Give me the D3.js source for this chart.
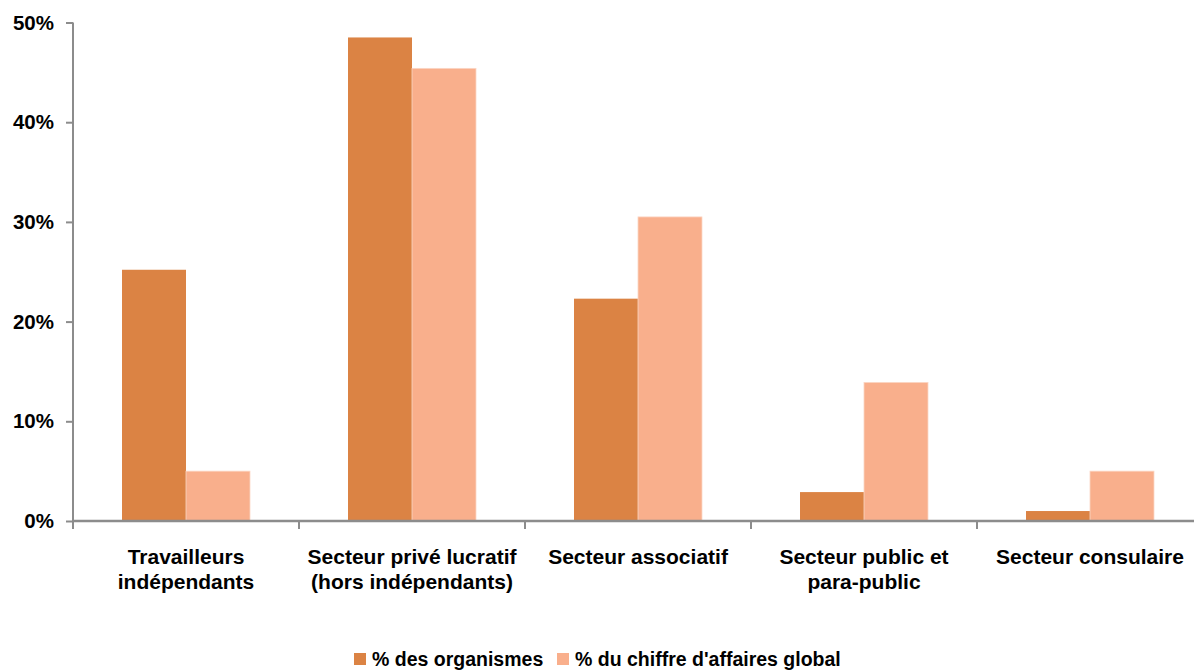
<!DOCTYPE html>
<html>
<head>
<meta charset="utf-8">
<script src="https://cdn.jsdelivr.net/npm/d3@7"></script>
<style>
  body { margin: 0; background: #fff; }
  text { font-family: "Liberation Sans", Arial, sans-serif; font-weight: bold; fill: #000; }
</style>
</head>
<body>
<div id="chart"></div>
<script>
var categories = [
  "Travailleurs|indépendants",
  "Secteur privé lucratif|(hors indépendants)",
  "Secteur associatif",
  "Secteur public et|para-public",
  "Secteur consulaire"
];
var seriesNames = ["% des organismes", "% du chiffre d'affaires global"];
var organismes = [25.2, 48.5, 22.3, 2.9, 1.0];
var chiffreAffaires = [5.0, 45.4, 30.5, 13.9, 5.0];
var yTicks = [0, 10, 20, 30, 40, 50];
var colors = ["#DB8344", "#F9AF8C"];

var width = 1194, height = 670;

var svg = d3.select("#chart").append("svg")
    .attr("width", width)
    .attr("height", height);

var x = d3.scaleBand()
    .domain(categories)
    .range([73, 73 + 5 * 226])
    .paddingInner(0)
    .paddingOuter(0);

var xSeries = d3.scaleBand()
    .domain([0, 1])
    .range([0, x.bandwidth()])
    .paddingOuter(0.766)
    .paddingInner(0);

var y = d3.scaleLinear()
    .domain([0, 50])
    .range([521, 22.5]);

// bars
var series = [organismes, chiffreAffaires];
series.forEach(function (vals, s) {
  svg.append("g")
    .selectAll("rect")
    .data(vals)
    .join("rect")
    .attr("x", (d, i) => x(categories[i]) + xSeries(s))
    .attr("y", d => y(d))
    .attr("width", xSeries.bandwidth())
    .attr("height", d => y(0) - y(d))
    .attr("fill", colors[s])
    .attr("stroke", s === 1 ? "#fbd6c4" : "none")
    .attr("stroke-width", s === 1 ? 0.8 : 0);
});

// y axis
var yAxis = svg.append("g")
    .attr("transform", "translate(73,0)")
    .call(d3.axisLeft(y).tickValues(yTicks).tickFormat(d => d + "%").tickSize(7).tickPadding(12));
yAxis.selectAll("path, line").attr("stroke", "#8c8c8c").attr("stroke-width", 2);
yAxis.select(".domain").attr("d", "M0," + y(50) + "V" + y(0));
yAxis.selectAll("text")
    .attr("font-size", 20.5)
    .attr("font-family", "Liberation Sans, Arial, sans-serif")
    .attr("font-weight", "bold")
    .attr("fill", "#000");

// x axis
var xAxisG = svg.append("g");
xAxisG.append("line")
    .attr("x1", 73).attr("x2", width)
    .attr("y1", y(0)).attr("y2", y(0))
    .attr("stroke", "#8c8c8c").attr("stroke-width", 2.5);
xAxisG.selectAll("line.tick")
    .data(categories.concat(["end"]))
    .join("line")
    .attr("class", "tick")
    .attr("x1", (d, i) => i < categories.length ? x(d) : x.range()[1])
    .attr("x2", (d, i) => i < categories.length ? x(d) : x.range()[1])
    .attr("y1", y(0)).attr("y2", y(0) + 8)
    .attr("stroke", "#8c8c8c").attr("stroke-width", 2);

var labels = xAxisG.selectAll("text.cat")
    .data(categories)
    .join("text")
    .attr("class", "cat")
    .attr("text-anchor", "middle")
    .attr("font-size", 21)
    .attr("transform", d => "translate(" + (x(d) + x.bandwidth() / 2) + ",564)");
labels.selectAll("tspan")
    .data(d => d.split("|"))
    .join("tspan")
    .attr("x", 0)
    .attr("dy", (d, i) => i === 0 ? 0 : 25)
    .text(d => d);

// legend
var legendItems = [
  { name: seriesNames[0], color: colors[0], x: 354 },
  { name: seriesNames[1], color: colors[1], x: 557 }
];
var legend = svg.append("g");
legendItems.forEach(function (it) {
  legend.append("rect")
    .attr("x", it.x).attr("y", 653)
    .attr("width", 12).attr("height", 12)
    .attr("fill", it.color);
  legend.append("text")
    .attr("x", it.x + 18).attr("y", 666)
    .attr("font-size", 19.5)
    .text(it.name);
});
</script>
</body>
</html>
